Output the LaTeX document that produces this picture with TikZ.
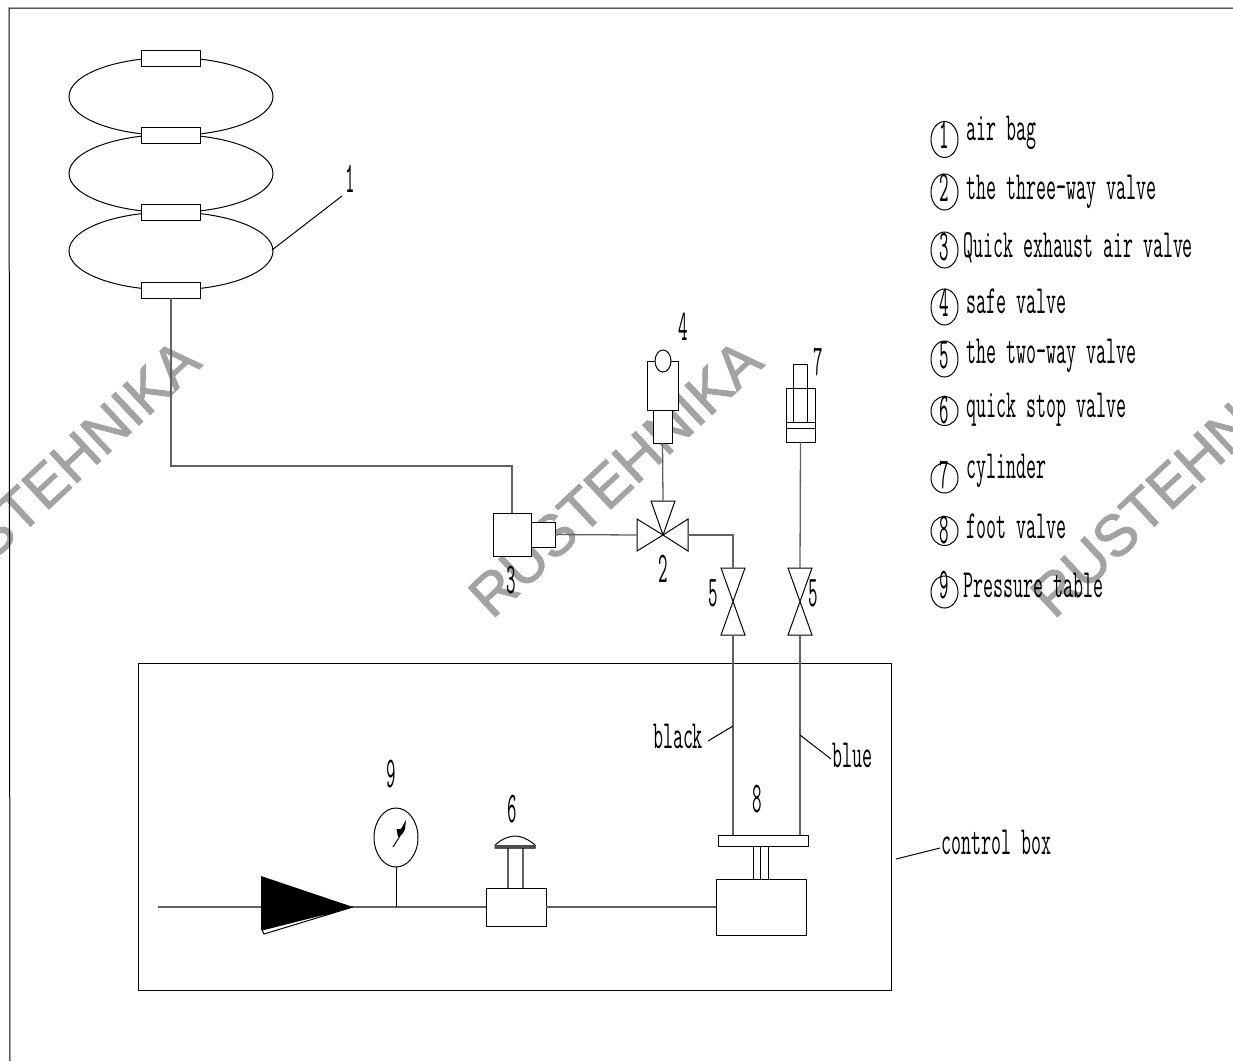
\documentclass[tikz,border=0pt]{standalone}
\usepackage{fontspec}
\newfontfamily\cad[FakeStretch=0.485]{Latin Modern Mono}
\newfontfamily\cadn[FakeStretch=0.42]{Latin Modern Mono}
\newfontfamily\wmc[FakeBold=1.6]{Liberation Sans}
\usetikzlibrary{shapes.geometric}
\tikzset{
  pipe/.style={line width=1.3pt,draw=black!62},
  thin line/.style={line width=1pt,draw=black},
  part/.style={rectangle,thin line,fill=white,inner sep=0pt,outer sep=0pt},
  oval/.style={ellipse,thin line,inner sep=0pt,outer sep=0pt},
  tag/.style={font=\fontsize{44}{44}\cadn,inner sep=0pt,anchor=base},
  words/.style={font=\fontsize{40}{40}\cad,inner sep=0pt,anchor=base west},
  mark text/.style={font=\fontsize{58}{58}\wmc,text=black!36,inner sep=0pt,rotate=43,anchor=center},
}
\begin{document}
\begin{tikzpicture}[x=1pt,y=-1pt]
\useasboundingbox (0,0) rectangle (1233,1061);
\fill[white] (0,0) rectangle (1233,1061);
% watermark
\begin{scope}
\clip (0,0) rectangle (1233,1061);
\node[mark text] (w1) at (53,478) {RUSTEHNIKA};
\node[mark text] (w2) at (615,478) {RUSTEHNIKA};
\node[mark text] (w3) at (1177,478) {RUSTEHNIKA};
\end{scope}
% frame
\coordinate (f0) at (10,1061);
\coordinate (f1) at (9,8);
\coordinate (f2) at (1233,8);
\draw[thin line] (f0) -- (f1) -- (f2);
% air bags
\node[oval,minimum width=204pt,minimum height=78pt] (e1) at (171,96.5) {};
\node[oval,minimum width=204pt,minimum height=78pt] (e2) at (171,173.5) {};
\node[oval,minimum width=204pt,minimum height=78pt] (e3) at (171,251) {};
\node[part,minimum width=59pt,minimum height=16pt] (b1) at (171,58) {};
\node[part,minimum width=59pt,minimum height=16pt] (b2) at (171,135) {};
\node[part,minimum width=59pt,minimum height=16pt] (b3) at (171,212) {};
\node[part,minimum width=59pt,minimum height=16pt] (b4) at (171,290) {};
\coordinate (n1) at (342,196);
\coordinate (n1b) at (272,250);
\draw[thin line] (n1b) -- (n1);
\node[tag] (t1) at (350,192) {1};
% quick exhaust valve
\node[part,minimum width=38pt,minimum height=43pt] (q) at (512,534.5) {};
\node[part,minimum width=24pt,minimum height=25pt] (qs) at (543,534.5) {};
\node[tag] (t3) at (511,593) {3};
% three-way valve
\coordinate (v) at (663,535);
\coordinate (vl) at (637,535);
\coordinate (vr) at (688,535);
\coordinate (vt) at (663,501);
\draw[thin line] (v) -- (637,519) -- (637,551) -- cycle;
\draw[thin line] (v) -- (688,519) -- (688,551) -- cycle;
\draw[thin line] (v) -- (651,501) -- (675,501) -- cycle;
\node[tag] (t2) at (663,582) {2};
\coordinate (el) at (171,466);
\draw[pipe] (b4.south) -- (el) -| (q.north);
\draw[pipe] (qs.east) -- (vl);
% safe valve
\node[part,minimum width=19pt,minimum height=33pt] (s1) at (662.5,426.5) {};
\node[part,minimum width=31pt,minimum height=49pt] (s2) at (662.5,385.5) {};
\node[oval,fill=white,minimum width=16pt,minimum height=22pt] (s3) at (663,361) {};
\node[tag] (t4) at (683,340) {4};
\draw[pipe] (s1.south) -- (vt);
% cylinder
\node[part,minimum width=14pt,minimum height=58pt] (c1) at (800,393) {};
\node[part,fill=none,minimum width=29pt,minimum height=54pt] (c2) at (800.5,415) {};
\coordinate (c3l) at (786,422);\coordinate (c3r) at (815,422);
\coordinate (c4l) at (786,428);\coordinate (c4r) at (815,428);
\draw[thin line] (c3l) -- (c3r) (c4l) -- (c4r);
\node[tag] (t7) at (818,375) {7};
% two-way valves
\coordinate (lt) at (733,568);\coordinate (lb) at (733,635);
\coordinate (rt) at (800,568);\coordinate (rb) at (800,635);
\draw[thin line] (lt) +(-12,0) -- +(12,0) -- ++(-12,67) -- ++(24,0) -- cycle;
\draw[thin line] (rt) +(-12,0) -- +(12,0) -- ++(-12,67) -- ++(24,0) -- cycle;
\node[tag] (t5a) at (713,606) {5};
\node[tag] (t5b) at (813,606) {5};
\draw[pipe] (vr) -| (lt);
\draw[pipe] (c2.south) -- (rt);
% control box
\node[rectangle,thin line,inner sep=0pt,outer sep=0pt,minimum width=753pt,minimum height=327pt] (cb) at (514.5,826.5) {};
\coordinate (cbl) at (896,859);
\coordinate (cbr) at (940,848);
\draw[thin line] (cbl) -- (cbr);
\node[words] (tcb) at (941,854) {control box};
% foot valve
\node[part,minimum width=90pt,minimum height=11pt] (fl) at (763,840.5) {};
\node[part,minimum width=90pt,minimum height=56pt] (fb) at (761,907) {};
\coordinate (st1) at (753,846);\coordinate (st1b) at (753,879);
\coordinate (st2) at (760,846);\coordinate (st2b) at (760,879);
\coordinate (st3) at (768,846);\coordinate (st3b) at (768,879);
\draw[thin line] (st1) -- (st1b) (st2) -- (st2b) (st3) -- (st3b);
\node[tag] (t8) at (757,812) {8};
\coordinate (fl1) at (733,835);\coordinate (fl2) at (800,835);
\draw[pipe] (lb) -- (fl1);
\draw[pipe] (rb) -- (fl2);
\node[words,anchor=base] (tblack) at (678,748) {black};
\node[words,anchor=base] (tblue) at (852,767) {blue};
\coordinate (k1) at (708,741);\coordinate (k2) at (733,726);
\coordinate (u1) at (800,735);\coordinate (u2) at (831,759);
\draw[thin line] (k1) -- (k2);
\draw[thin line] (u1) -- (u2);
% main line
\coordinate (ms) at (158,907);
\coordinate (ap) at (353,907);
\coordinate (gj) at (396,907);
\node[part,minimum width=60pt,minimum height=38pt] (q6) at (516,907) {};
\draw[pipe] (ms) -- (q6.west);
\draw[pipe] (q6.east) -- (fb.west);
\draw[thin line,fill=white] (262,930) -- (264,934) -- (ap) -- cycle;
\fill[black] (261,876) -- (ap) -- (261,930) -- cycle;
% gauge
\node[oval,minimum width=44pt,minimum height=59pt,fill=white] (g) at (396,837.5) {};
\draw[thin line] (g.south) -- (gj);
\coordinate (g1) at (393,847);
\coordinate (g2) at (400,836);
\draw[thin line] (g1) -- (g2);
\fill[black] (398,837) -- (396.5,829) -- (401,829) -- (406,820) -- (405,829) -- (403,833) -- (400,836) -- cycle;
\node[tag] (t9) at (391,787) {9};
% quick stop valve
\coordinate (h1) at (508,848);\coordinate (h2) at (523,848);
\draw[pipe] (h1) -- (h1|-q6.north);
\draw[pipe] (h2) -- (h2|-q6.north);
\coordinate (ca) at (495,845);\coordinate (cb2) at (535,845);
\draw[thin line,fill=white] (ca) .. controls (503,838) and (510,836) .. (515,836) .. controls (521,836) and (528,839) .. (cb2) -- (535,848) -- (495,848) -- cycle;
\fill[black!70] (495,845) rectangle (535,847.5);
\node[tag] (t6) at (512,822) {6};
% legend
\foreach \nm/\cy/\ry/\d/\by in {l1/139.5/18/1/148,l2/192/18/2/201,l3/250/18/3/260,l4/307/18/4/316,l5/359/18/5/368,l6/411/14.5/6/423,l7/478/15/7/488,l8/531/14.5/8/543,l9/592/16/9/598}{
  \node[oval,minimum width=27pt,minimum height=2*\ry pt] (\nm) at (944.5,\cy) {};
  \node[tag] (\nm t) at (944.5,\by) {\d};
}
\node[words] (x1) at (966,140) {air bag};
\node[words] (x2) at (966,199) {the three-way valve};
\node[words] (x3) at (963,257) {Quick exhaust air valve};
\node[words] (x4) at (966,313) {safe valve};
\node[words] (x5) at (966,363) {the two-way valve};
\node[words] (x6) at (966,417) {quick stop valve};
\node[words] (x7) at (966,478) {cylinder};
\node[words] (x8) at (966,538) {foot valve};
\node[words] (x9) at (963,597) {Pressure table};
\end{tikzpicture}
\end{document}
